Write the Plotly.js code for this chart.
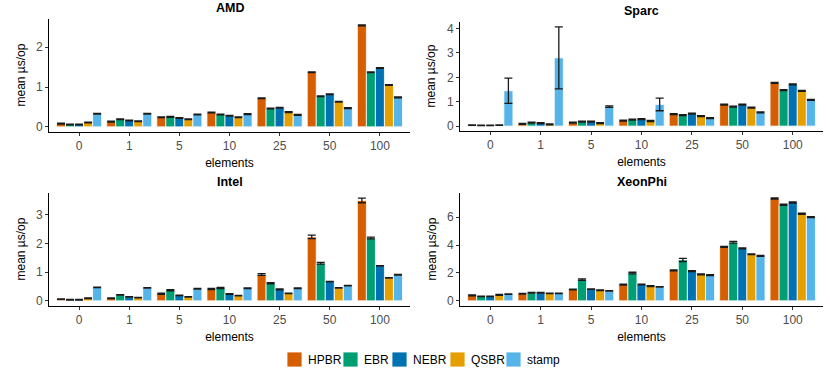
<!DOCTYPE html>
<html>
<head>
<meta charset="utf-8">
<script src="https://cdn.plot.ly/plotly-3.0.1.min.js"></script>
<style>
  html, body { margin: 0; padding: 0; background: white; }
  #graph-container { width: 830px; height: 380px; }
</style>
</head>
<body>
<div id="graph-container"></div>
<script>
const elements = ['0', '1', '5', '10', '25', '50', '100'];
const schemes = ['HPBR', 'EBR', 'NEBR', 'QSBR', 'stamp'];
const schemeColors = ['#D55E00', '#009E73', '#0072B2', '#E69F00', '#56B4E9'];

// mean us/op, one row per scheme (HPBR, EBR, NEBR, QSBR, stamp)
const amdMean = [
    [0.08, 0.13, 0.24, 0.36, 0.72, 1.37, 2.55],
    [0.06, 0.19, 0.25, 0.31, 0.46, 0.77, 1.37],
    [0.06, 0.16, 0.22, 0.28, 0.48, 0.82, 1.48],
    [0.11, 0.14, 0.19, 0.24, 0.37, 0.63, 1.05],
    [0.33, 0.33, 0.31, 0.32, 0.30, 0.47, 0.74]
];
const amdErr = [
    [0.01, 0.01, 0.01, 0.01, 0.01, 0.01, 0.01],
    [0.01, 0.01, 0.01, 0.01, 0.01, 0.01, 0.01],
    [0.01, 0.01, 0.01, 0.01, 0.01, 0.01, 0.01],
    [0.01, 0.01, 0.01, 0.01, 0.01, 0.01, 0.01],
    [0.01, 0.01, 0.01, 0.01, 0.01, 0.01, 0.01]
];

const sparcMean = [
    [0.04, 0.09, 0.14, 0.23, 0.49, 0.88, 1.77],
    [0.03, 0.14, 0.18, 0.27, 0.45, 0.80, 1.48],
    [0.03, 0.12, 0.18, 0.29, 0.51, 0.88, 1.71],
    [0.04, 0.07, 0.12, 0.21, 0.41, 0.76, 1.45],
    [1.45, 2.80, 0.80, 0.89, 0.33, 0.56, 1.08]
];
const sparcErr = [
    [0.01, 0.02, 0.02, 0.02, 0.02, 0.02, 0.02],
    [0.01, 0.02, 0.02, 0.02, 0.02, 0.02, 0.02],
    [0.01, 0.02, 0.02, 0.02, 0.02, 0.02, 0.02],
    [0.01, 0.02, 0.02, 0.02, 0.02, 0.02, 0.02],
    [0.52, 1.27, 0.03, 0.26, 0.02, 0.02, 0.02]
];

const intelMean = [
    [0.06, 0.09, 0.25, 0.41, 0.92, 2.23, 3.50],
    [0.04, 0.21, 0.37, 0.45, 0.61, 1.31, 2.19],
    [0.04, 0.14, 0.19, 0.24, 0.40, 0.67, 1.22],
    [0.09, 0.11, 0.14, 0.18, 0.26, 0.45, 0.80],
    [0.47, 0.45, 0.42, 0.44, 0.44, 0.53, 0.91]
];
const intelErr = [
    [0.01, 0.01, 0.02, 0.02, 0.03, 0.06, 0.08],
    [0.01, 0.01, 0.02, 0.02, 0.02, 0.03, 0.03],
    [0.01, 0.01, 0.01, 0.01, 0.02, 0.01, 0.01],
    [0.01, 0.01, 0.01, 0.01, 0.01, 0.01, 0.01],
    [0.01, 0.01, 0.01, 0.01, 0.01, 0.01, 0.01]
];

const xeonMean = [
    [0.39, 0.51, 0.81, 1.16, 2.18, 3.87, 7.33],
    [0.32, 0.58, 1.52, 1.99, 2.93, 4.20, 6.89],
    [0.32, 0.58, 0.84, 1.17, 2.13, 3.76, 7.05],
    [0.43, 0.54, 0.76, 1.05, 1.90, 3.34, 6.24],
    [0.48, 0.54, 0.71, 1.00, 1.84, 3.22, 6.00]
];
const xeonErr = [
    [0.03, 0.02, 0.03, 0.03, 0.03, 0.03, 0.04],
    [0.02, 0.02, 0.06, 0.06, 0.11, 0.06, 0.04],
    [0.02, 0.02, 0.02, 0.03, 0.03, 0.04, 0.04],
    [0.03, 0.02, 0.03, 0.03, 0.03, 0.03, 0.04],
    [0.02, 0.02, 0.02, 0.02, 0.03, 0.03, 0.04]
];

const panels = [
    { title: 'AMD', mean: amdMean, err: amdErr, range: [-0.13, 2.71], dtick: 1,
      xdom: [49 / 830, 410 / 830], ydom: [(380 - 132) / 380, (380 - 19) / 380] },
    { title: 'Sparc', mean: sparcMean, err: sparcErr, range: [-0.2, 4.27], dtick: 1,
      xdom: [460 / 830, 823 / 830], ydom: [(380 - 131) / 380, (380 - 22) / 380] },
    { title: 'Intel', mean: intelMean, err: intelErr, range: [-0.18, 3.76], dtick: 1,
      xdom: [49 / 830, 410 / 830], ydom: [(380 - 306) / 380, (380 - 193) / 380] },
    { title: 'XeonPhi', mean: xeonMean, err: xeonErr, range: [-0.37, 7.73], dtick: 2,
      xdom: [460 / 830, 823 / 830], ydom: [(380 - 306) / 380, (380 - 193) / 380] }
];

// legend keys drawn by hand (ggplot style, compact), left edge of each swatch in px
const legendKeyX = [287, 343, 392, 450, 506];

const FONT = 'Liberation Sans, Arial, sans-serif';
const graphContainer = document.getElementById('graph-container');

const traces = [];
const layout = {
    width: 830,
    height: 380,
    margin: { t: 0, b: 0, l: 0, r: 0 },
    plot_bgcolor: 'white',
    paper_bgcolor: 'white',
    barmode: 'group',
    bargap: 0.1,
    bargroupgap: 0,
    font: { family: FONT, size: 12, color: '#1a1a1a' },
    showlegend: false,
    annotations: [],
    shapes: []
};

panels.forEach((panel, index) => {
    const suffix = index === 0 ? '' : String(index + 1);
    const xName = 'x' + suffix;
    const yName = 'y' + suffix;

    layout['xaxis' + suffix] = {
        type: 'category',
        domain: panel.xdom,
        anchor: yName,
        range: [-0.6, 6.6],
        showline: true,
        linecolor: '#000',
        linewidth: 1,
        showgrid: false,
        zeroline: false,
        ticks: 'outside',
        ticklen: 3,
        tickcolor: '#333',
        tickfont: { family: FONT, size: 12, color: '#4d4d4d' },
        title: { text: 'elements', font: { family: FONT, size: 12, color: '#000' }, standoff: 6 }
    };
    layout['yaxis' + suffix] = {
        domain: panel.ydom,
        anchor: xName,
        range: panel.range,
        dtick: panel.dtick,
        tick0: 0,
        showline: true,
        linecolor: '#000',
        linewidth: 1,
        showgrid: false,
        zeroline: false,
        ticks: 'outside',
        ticklen: 3,
        tickcolor: '#333',
        tickfont: { family: FONT, size: 12, color: '#4d4d4d' }
    };

    // panel title
    layout.annotations.push({
        text: '<b>' + panel.title + '</b>',
        xref: xName + ' domain',
        yref: yName + ' domain',
        x: 0.5,
        y: 1,
        yanchor: 'bottom',
        yshift: 3,
        borderpad: 0,
        showarrow: false,
        font: { family: FONT, size: 12.5, color: '#000' }
    });

    // y title, placed closer to the axis than plotly's own title allows
    layout.annotations.push({
        text: 'mean µs/op',
        xref: xName + ' domain',
        yref: yName + ' domain',
        x: 0,
        y: 0.5,
        xshift: -29,
        xanchor: 'center',
        yanchor: 'middle',
        textangle: -90,
        showarrow: false,
        font: { family: FONT, size: 12, color: '#000' }
    });

    schemes.forEach((scheme, s) => {
        traces.push({
            type: 'bar',
            x: elements,
            y: panel.mean[s],
            name: scheme,
            xaxis: xName,
            yaxis: yName,
            marker: {
                color: schemeColors[s],
                line: { color: 'white', width: 0.8 }
            },
            error_y: {
                type: 'data',
                array: panel.err[s],
                visible: true,
                color: '#1a1a1a',
                thickness: 1.3,
                width: 4
            }
        });
    });
});

// legend: swatch + label per scheme
schemes.forEach((scheme, s) => {
    const x0 = legendKeyX[s];
    layout.shapes.push({
        type: 'rect',
        xref: 'paper',
        yref: 'paper',
        x0: x0 / 830,
        x1: (x0 + 15) / 830,
        y0: (380 - 367) / 380,
        y1: (380 - 352) / 380,
        fillcolor: schemeColors[s],
        line: { color: 'white', width: 0.8 }
    });
    layout.annotations.push({
        text: scheme,
        xref: 'paper',
        yref: 'paper',
        x: (x0 + 19) / 830,
        y: (380 - 359.5) / 380,
        xanchor: 'left',
        yanchor: 'middle',
        showarrow: false,
        font: { family: FONT, size: 12, color: '#000' }
    });
});

Plotly.newPlot(graphContainer, traces, layout, { staticPlot: true });
</script>
</body>
</html>
